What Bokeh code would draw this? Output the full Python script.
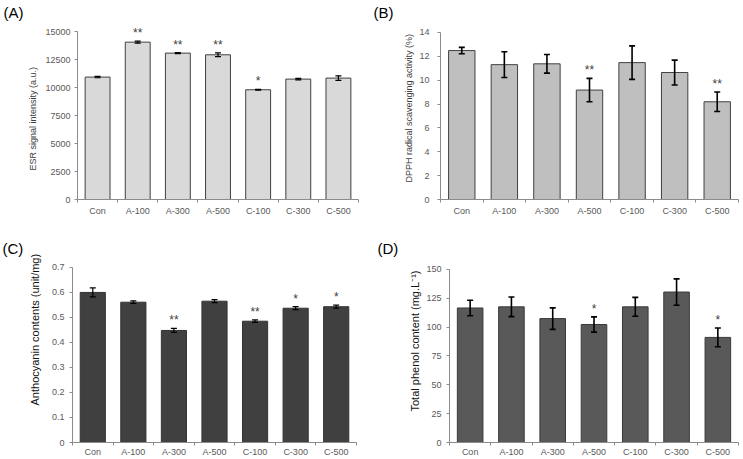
from bokeh.plotting import figure
from bokeh.models import ColumnDataSource, Range1d, FixedTicker, Whisker, TeeHead, Title
from bokeh.layouts import column, row
from bokeh.embed import file_html
from bokeh.resources import INLINE
from bokeh.core.properties import value

# ---------------- data ----------------
categories = ["Con", "A-100", "A-300", "A-500", "C-100", "C-300", "C-500"]

esr_mean = [10930, 14050, 13070, 12920, 9800, 10750, 10840]
esr_err = [60, 90, 50, 170, 40, 70, 200]
esr_sig = ["", "**", "**", "**", "*", "", ""]
esr_ticks = [0, 2500, 5000, 7500, 10000, 12500, 15000]
esr_tick_labels = ["0", "2500", "5000", "7500", "10000", "12500", "15000"]

dpph_mean = [12.48, 11.30, 11.37, 9.17, 11.47, 10.64, 8.19]
dpph_err = [0.27, 1.08, 0.78, 0.98, 1.40, 1.04, 0.82]
dpph_sig = ["", "", "", "**", "", "", "**"]
dpph_ticks = [0, 2, 4, 6, 8, 10, 12, 14]
dpph_tick_labels = ["0", "2", "4", "6", "8", "10", "12", "14"]

antho_mean = [0.600, 0.561, 0.448, 0.565, 0.485, 0.537, 0.543]
antho_err = [0.018, 0.005, 0.008, 0.006, 0.005, 0.006, 0.006]
antho_sig = ["", "", "**", "", "**", "*", "*"]
antho_ticks = [0, 0.1, 0.2, 0.3, 0.4, 0.5, 0.6, 0.7]
antho_tick_labels = ["0", "0.1", "0.2", "0.3", "0.4", "0.5", "0.6", "0.7"]

phenol_mean = [116.5, 117.5, 107.3, 102.2, 117.5, 130.3, 91.0]
phenol_err = [6.7, 8.5, 9.3, 6.6, 8.2, 11.4, 8.1]
phenol_sig = ["", "", "", "*", "", "", "*"]
phenol_ticks = [0, 25, 50, 75, 100, 125, 150]
phenol_tick_labels = ["0", "25", "50", "75", "100", "125", "150"]

FONT = "Liberation Sans"
AXIS_COLOR = "#8c8c8c"
TICK_TEXT = "#595959"


def make_panel(mean, err, sig, ticks, tick_labels, *, width, height, left, right, top, bottom,
               top_tick_px, fill, edge, err_width, ylabel, ylabel_size, ylabel_color,
               ylabel_offset, ylabel_standoff, title, title_x, ystandoff, xstandoff):
    n = len(categories)
    xs = list(range(1, n + 1))
    src = ColumnDataSource(dict(
        x=xs, top=mean,
        upper=[m + e for m, e in zip(mean, err)],
        lower=[m - e for m, e in zip(mean, err)],
        stars=sig,
    ))
    # the frame reaches above the top tick (room for the panel letter / stars);
    # the y axis itself stops at the top tick
    frame_bottom = height - bottom
    y_end = ticks[-1] * (frame_bottom - top) / (frame_bottom - top_tick_px)
    p = figure(width=width, height=height, output_backend="svg", toolbar_location=None,
               x_range=Range1d(0.5, n + 0.5), y_range=Range1d(0, y_end),
               min_border_left=left, min_border_right=right,
               min_border_top=top, min_border_bottom=bottom)
    p.outline_line_color = None
    p.xgrid.visible = False
    p.ygrid.visible = False
    p.background_fill_color = "white"
    p.border_fill_color = "white"

    p.vbar(x="x", top="top", width=0.62, bottom=0, source=src,
           fill_color=fill, line_color=edge, line_width=1)

    wh = Whisker(source=src, base="x", upper="upper", lower="lower",
                 line_color="black", line_width=err_width,
                 upper_head=TeeHead(size=6, line_color="black", line_width=err_width),
                 lower_head=TeeHead(size=6, line_color="black", line_width=err_width))
    wh.level = "overlay"
    p.add_layout(wh)

    p.text(x="x", y="upper", text="stars", source=src, text_font=value(FONT),
           text_font_size="12px", text_color="#404040", text_align="center",
           text_baseline="bottom", y_offset=-1)

    # x axis (Excel style: small ticks between categories)
    xa = p.xaxis[0]
    xa.ticker = FixedTicker(ticks=xs, minor_ticks=[i + 0.5 for i in range(n + 1)])
    xa.major_label_overrides = {x: c for x, c in zip(xs, categories)}
    xa.major_tick_line_color = None
    xa.major_tick_out = 0
    xa.major_tick_in = 0
    xa.minor_tick_line_color = AXIS_COLOR
    xa.minor_tick_out = 0
    xa.minor_tick_in = -3
    xa.axis_line_color = AXIS_COLOR
    xa.major_label_text_font = FONT
    xa.major_label_text_font_size = "9px"
    xa.major_label_text_color = TICK_TEXT
    xa.major_label_standoff = xstandoff

    ya = p.yaxis[0]
    ya.ticker = FixedTicker(ticks=ticks)
    ya.major_label_overrides = {t: s for t, s in zip(ticks, tick_labels)}
    ya.bounds = (ticks[0], ticks[-1])
    ya.minor_tick_line_color = None
    ya.major_tick_out = 3
    ya.major_tick_in = 0
    ya.major_tick_line_color = AXIS_COLOR
    ya.axis_line_color = AXIS_COLOR
    ya.major_label_text_font = FONT
    ya.major_label_text_font_size = "9px"
    ya.major_label_text_color = TICK_TEXT
    ya.major_label_standoff = ystandoff

    # y axis title, as an outer left panel
    p.add_layout(Title(text=ylabel, align="left", offset=ylabel_offset,
                       standoff=ylabel_standoff, vertical_align="bottom",
                       text_font=FONT, text_font_size=ylabel_size,
                       text_font_style="normal", text_color=ylabel_color), "left")
    # panel letter
    p.add_layout(Title(text=title, align="left", offset=title_x - left,
                       standoff=0, vertical_align="bottom",
                       text_font=FONT, text_font_size="15px",
                       text_font_style="normal", text_color="black"), "above")
    return p


pA = make_panel(esr_mean, esr_err, esr_sig, esr_ticks, esr_tick_labels,
                width=370, height=228, left=77, right=12, top=20, bottom=29, top_tick_px=31,
                fill="#d9d9d9", edge="#404040", err_width=1.2,
                ylabel="ESR signal intensity (a.u.)", ylabel_size="9px", ylabel_color="#404040",
                ylabel_offset=29, ylabel_standoff=10, title="(A)", title_x=3,
                ystandoff=4, xstandoff=6)

pB = make_panel(dpph_mean, dpph_err, dpph_sig, dpph_ticks, dpph_tick_labels,
                width=373, height=228, left=70, right=5, top=19, bottom=29, top_tick_px=31,
                fill="#bfbfbf", edge="#404040", err_width=1.6,
                ylabel="DPPH radical scavenging activity (%)", ylabel_size="9px",
                ylabel_color="#404040", ylabel_offset=17, ylabel_standoff=5,
                title="(B)", title_x=3, ystandoff=8, xstandoff=6)

pC = make_panel(antho_mean, antho_err, antho_sig, antho_ticks, antho_tick_labels,
                width=370, height=231, left=72, right=14, top=28, bottom=16, top_tick_px=39,
                fill="#404040", edge="#333333", err_width=1.2,
                ylabel="Anthocyanin contents (unit/mg)", ylabel_size="11px",
                ylabel_color="#111111", ylabel_offset=37, ylabel_standoff=16,
                title="(C)", title_x=2, ystandoff=5, xstandoff=4)

pD = make_panel(phenol_mean, phenol_err, phenol_sig, phenol_ticks, phenol_tick_labels,
                width=373, height=231, left=79, right=5, top=26, bottom=16, top_tick_px=39,
                fill="#595959", edge="#3a3a3a", err_width=1.6,
                ylabel="Total phenol content (mg.L\u207b\u00b9)", ylabel_size="11px",
                ylabel_color="#111111", ylabel_offset=31, ylabel_standoff=6,
                title="(D)", title_x=7, ystandoff=5, xstandoff=4)

layout = column(row(pA, pB), row(pC, pD))

with open("out.html", "w") as f:
    f.write(file_html(layout, INLINE))
